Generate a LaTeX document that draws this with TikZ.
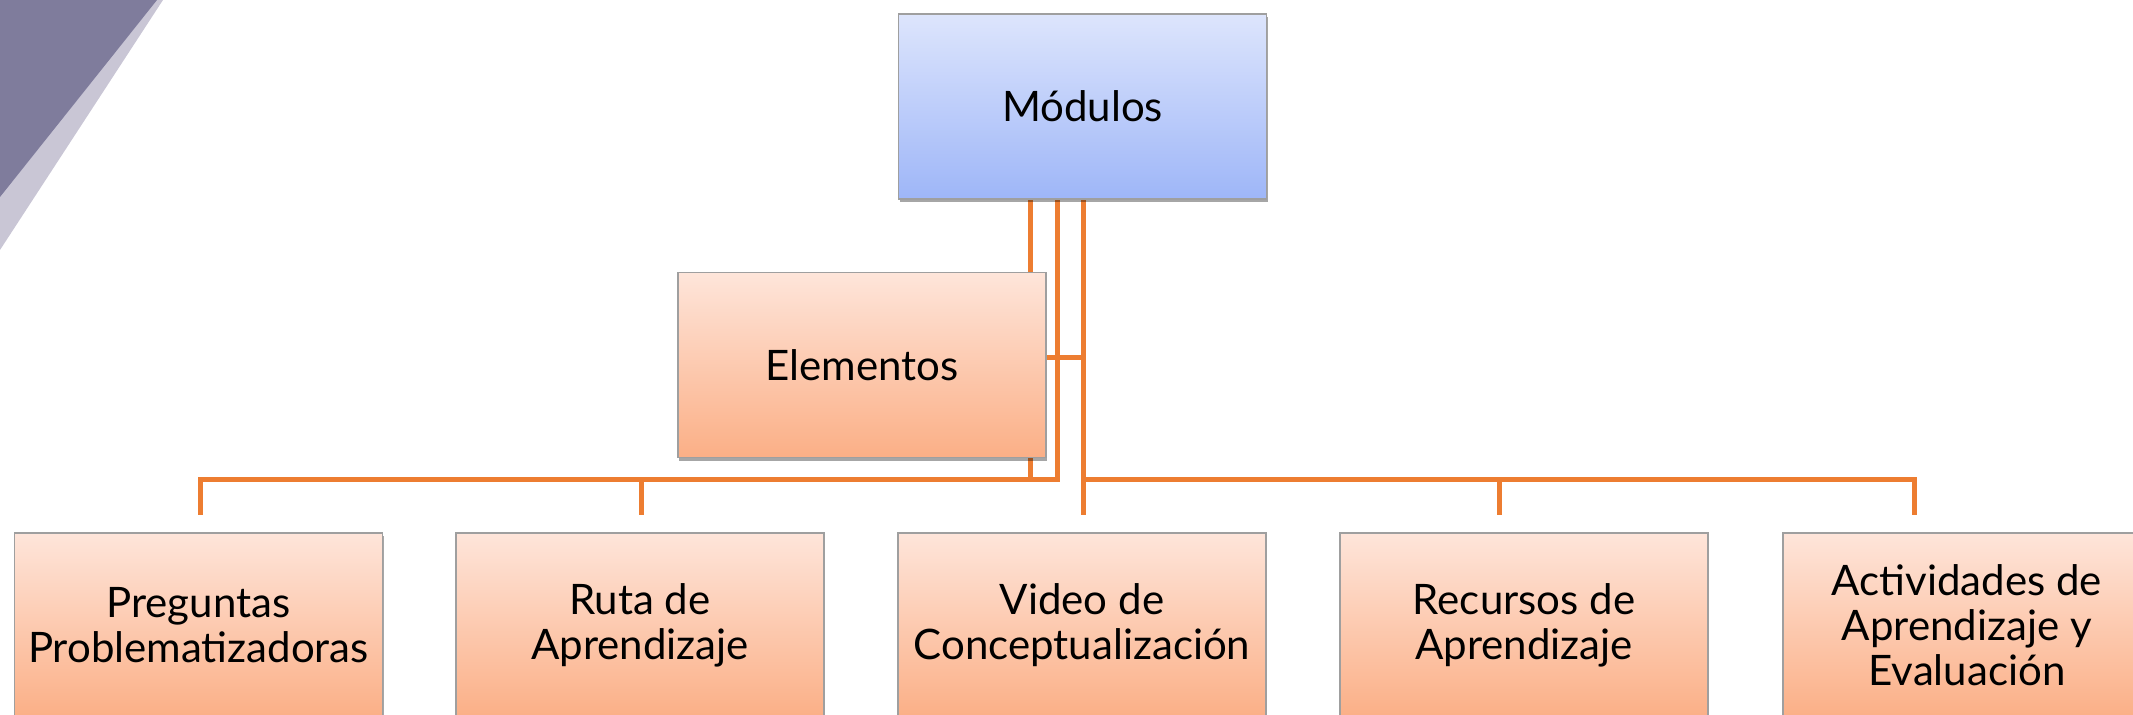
\documentclass[tikz,border=0pt]{standalone}
\usepackage{fontspec}
\setmainfont{Lato}
\usetikzlibrary{shadows,backgrounds}
\definecolor{linkc}{HTML}{ED7D31}
\definecolor{decdark}{HTML}{7F7C9C}
\definecolor{declight}{HTML}{C9C6D5}
\definecolor{bluetop}{HTML}{DDE5FC}
\definecolor{bluebot}{HTML}{9EB6F8}
\definecolor{orgtop}{HTML}{FEE5DA}
\definecolor{orgbot}{HTML}{FBAF86}
\tikzset{
  box/.style={rectangle, draw=gray!75, line width=0.6pt, minimum width=184pt, minimum height=92.5pt,
    inner sep=0pt, align=center, font=\fontsize{21}{22.5}\selectfont,
    drop shadow={shadow xshift=0.6pt, shadow yshift=-1.6pt, opacity=0.35, fill=black}},
  bluebox/.style={box, top color=bluetop, bottom color=bluebot},
  orgbox/.style={box, top color=orgtop, bottom color=orgbot},
  link/.style={draw=linkc, line width=2.5pt},
}
\begin{document}
\begin{tikzpicture}[x=0.5pt,y=-0.5pt]
\useasboundingbox (0,0) rectangle (2133,715);
\clip (0,0) rectangle (2133,715);
% nodes
\node[bluebox] (mod) at (1082.5,106.5) {Módulos};
\node[orgbox] (el) at (862,365) {Elementos};
\node[orgbox] (pq) at (198.5,625.5) {\rule{0pt}{6pt}Preguntas\\Problematizadoras};
\node[orgbox] (ru) at (640,625.5) {\rule{0pt}{6pt}Ruta de\\Aprendizaje};
\node[orgbox] (vi) at (1082,625.5) {\rule{0pt}{6pt}Video de\\Conceptualización};
\node[orgbox] (re) at (1524,625.5) {\rule{0pt}{6pt}Recursos de\\Aprendizaje};
\node[orgbox] (ac) at (1967,625.5) {Actividades de\\Aprendizaje y\\Evaluación};
% connector ends
\coordinate (pqin) at (200.5,515);
\coordinate (ruin) at (641.5,515);
\coordinate (viin) at (1083.5,515);
\coordinate (rein) at (1499.5,515);
\coordinate (acin) at (1914.5,515);
\begin{scope}[on background layer]
  \fill[declight] (0,0) -- (163,0) -- (0,250) -- cycle;
  \fill[decdark] (0,0) -- (157,0) -- (0,197) -- cycle;
  \draw[link] (mod.south -| 1030,0) -- (1030,479.5) -| (pqin);
  \draw[link] (mod.south -| 1057,0) -- (1057,479.5) -| (ruin);
  \draw[link] (mod.south -| viin) -- (viin);
  \draw[link] (viin |- 0,357.5) -- (el.east |- 0,357.5);
  \draw[link] (viin |- 0,479.5) -| (acin);
  \draw[link] (rein |- 0,479.5) -- (rein);
\end{scope}
\end{tikzpicture}
\end{document}
